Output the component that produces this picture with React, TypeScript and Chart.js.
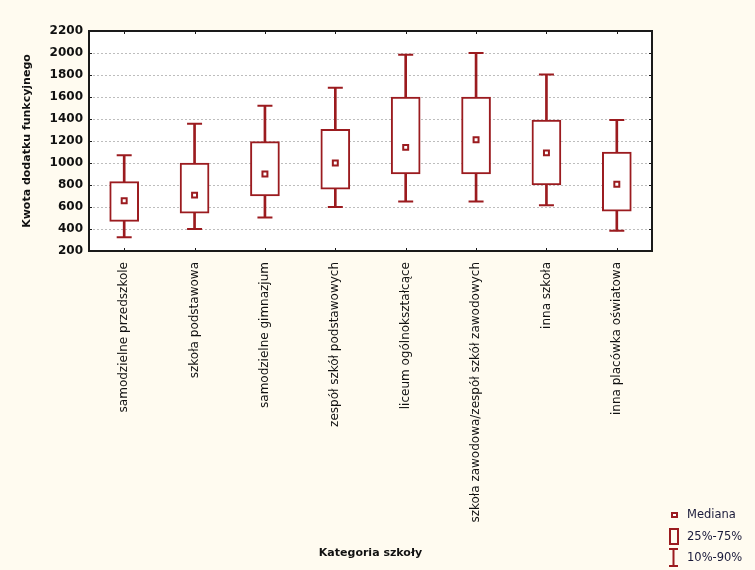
import React, { useEffect, useRef } from 'react';
import { Chart, registerables } from 'chart.js';

Chart.register(...registerables);

const categories = [
  'samodzielne przedszkole',
  'szkoła podstawowa',
  'samodzielne gimnazjum',
  'zespół szkół podstawowych',
  'liceum ogólnokształcące',
  'szkoła zawodowa/zespół szkół zawodowych',
  'inna szkoła',
  'inna placówka oświatowa',
];
const whiskerLow = [325, 400, 505, 600, 650, 650, 615, 383];
const q1 = [470, 543, 701, 763, 900, 900, 800, 563];
const median = [656, 708, 900, 1000, 1142, 1212, 1092, 806];
const q3 = [830, 1000, 1195, 1305, 1600, 1600, 1390, 1100];
const whiskerHigh = [1070, 1356, 1520, 1685, 1985, 2000, 1805, 1390];

const yTicks = [200, 400, 600, 800, 1000, 1200, 1400, 1600, 1800, 2000, 2200];
const legendLabels = ['Mediana', '25%-75%', '10%-90%'];
const yTitle = 'Kwota dodatku funkcyjnego';
const xTitle = 'Kategoria szkoły';

const RED = '#9b1b1f';
const BG = '#fffbf0';
const FONT = "'DejaVu Sans', sans-serif";

const framePlugin = {
  id: 'frame',
  beforeDraw(chart: any) {
    const { ctx, chartArea: a } = chart;
    ctx.save();
    ctx.fillStyle = BG;
    ctx.fillRect(0, 0, chart.width, chart.height);
    ctx.fillStyle = '#ffffff';
    ctx.fillRect(a.left, a.top, a.right - a.left, a.bottom - a.top);
    ctx.restore();
  },
  afterDraw(chart: any) {
    const { ctx, chartArea: a, scales } = chart;
    ctx.save();
    ctx.strokeStyle = '#1a1a1a';
    ctx.lineWidth = 2;
    ctx.strokeRect(a.left, a.top, a.right - a.left, a.bottom - a.top);
    ctx.lineWidth = 1;
    ctx.beginPath();
    yTicks.forEach((v) => {
      const y = Math.round(scales.y.getPixelForValue(v)) + 0.5;
      ctx.moveTo(a.left, y);
      ctx.lineTo(a.left + 3, y);
      ctx.moveTo(a.right, y);
      ctx.lineTo(a.right - 3, y);
    });
    categories.forEach((_c, i) => {
      const x = Math.round(scales.x.getPixelForValue(i)) + 0.5;
      ctx.moveTo(x, a.top);
      ctx.lineTo(x, a.top + 3);
      ctx.moveTo(x, a.bottom);
      ctx.lineTo(x, a.bottom - 3);
    });
    ctx.stroke();

    // legend
    ctx.strokeStyle = RED;
    ctx.lineWidth = 2;
    ctx.fillStyle = '#fff';
    ctx.fillRect(672, 513, 5, 4);
    ctx.strokeRect(672, 513, 5, 4);
    ctx.strokeRect(670, 529, 8, 15);
    ctx.beginPath();
    ctx.moveTo(673.5, 549);
    ctx.lineTo(673.5, 566);
    ctx.moveTo(669, 549);
    ctx.lineTo(678, 549);
    ctx.moveTo(669, 566);
    ctx.lineTo(678, 566);
    ctx.stroke();
    ctx.fillStyle = '#1a1a3a';
    ctx.font = `11.5px ${FONT}`;
    ctx.textBaseline = 'middle';
    ctx.textAlign = 'left';
    const ys = [515, 537, 558];
    legendLabels.forEach((t, i) => ctx.fillText(t, 687, ys[i]));
    ctx.restore();
  },
};

export default function App() {
  const ref = useRef<HTMLCanvasElement>(null);
  useEffect(() => {
    if (!ref.current) return;
    const whiskerRanges = whiskerLow.map((v, i) => [v, whiskerHigh[i]]);
    const boxRanges = q1.map((v, i) => [v, q3[i]]);
    const chart = new Chart(ref.current, {
      type: 'bar',
      data: {
        labels: categories,
        datasets: [
          {
            type: 'bar',
            label: 'whisker',
            data: whiskerRanges as any,
            backgroundColor: RED,
            borderWidth: 0,
            barThickness: 2,
            grouped: false,
            order: 4,
          } as any,
          {
            type: 'bar',
            label: 'box',
            data: boxRanges as any,
            backgroundColor: '#ffffff',
            borderColor: RED,
            borderWidth: 2,
            borderSkipped: false,
            barThickness: 29,
            grouped: false,
            order: 3,
          } as any,
          {
            type: 'line',
            label: 'low',
            data: whiskerLow,
            showLine: false,
            pointStyle: 'line',
            pointRadius: 7.5,
            pointBorderWidth: 2,
            pointBorderColor: RED,
            borderColor: RED,
            order: 2,
          } as any,
          {
            type: 'line',
            label: 'high',
            data: whiskerHigh,
            showLine: false,
            pointStyle: 'line',
            pointRadius: 7.5,
            pointBorderWidth: 2,
            pointBorderColor: RED,
            borderColor: RED,
            order: 2,
          } as any,
          {
            type: 'line',
            label: 'median',
            data: median,
            showLine: false,
            pointStyle: 'rect',
            pointRadius: 3.5,
            pointBorderWidth: 2,
            pointBorderColor: RED,
            pointBackgroundColor: '#ffffff',
            borderColor: RED,
            order: 1,
          } as any,
        ],
      },
      options: {
        responsive: false,
        animation: false,
        devicePixelRatio: 1,
        layout: { padding: { left: 0, top: 31, right: 103, bottom: 0 } },
        plugins: {
          legend: { display: false },
          tooltip: { enabled: false },
        },
        scales: {
          x: {
            offset: true,
            grid: { display: false, drawTicks: false },
            border: { display: false },
            ticks: {
              autoSkip: false,
              minRotation: 90,
              maxRotation: 90,
              padding: 11,
              color: '#111',
              font: { family: FONT, size: 12 },
            },
            title: {
              display: true,
              text: xTitle,
              color: '#111',
              font: { family: FONT, size: 11, weight: 'bold' },
              padding: { top: 0, bottom: 10 },
            },
            afterFit: (scale: any) => {
              scale.height = 319;
            },
          },
          y: {
            min: 200,
            max: 2200,
            afterBuildTicks: (scale: any) => {
              scale.ticks = yTicks.map((v) => ({ value: v }));
            },
            grid: {
              color: '#bdbdbd',
              lineWidth: 1,
              drawTicks: false,
            },
            border: { display: false, dash: [2, 2] },
            ticks: {
              padding: 6,
              color: '#111',
              font: { family: FONT, size: 12, weight: 'bold' },
              callback: (v: any) => String(v),
            },
            title: {
              display: true,
              text: yTitle,
              color: '#111',
              font: { family: FONT, size: 11, weight: 'bold' },
              padding: { top: 21, bottom: 0 },
            },
            afterFit: (scale: any) => {
              scale.width = 89;
            },
          },
        },
      },
      plugins: [framePlugin],
    });
    return () => chart.destroy();
  }, []);

  return (
    <div style={{ position: 'absolute', left: 0, top: 0, width: 755, height: 570, background: BG }}>
      <canvas ref={ref} width={755} height={570} style={{ display: 'block', width: 755, height: 570 }} />
    </div>
  );
}
